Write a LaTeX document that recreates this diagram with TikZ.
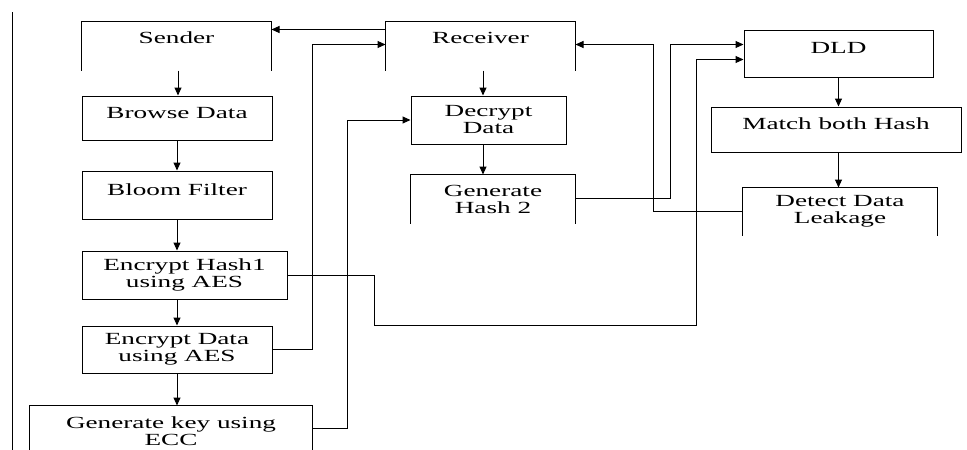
\documentclass[tikz,border=0pt]{standalone}
\usepackage{fontspec}
\setmainfont{Liberation Serif}[FakeStretch=1.6]
\usetikzlibrary{arrows.meta,calc}

\tikzset{
  blk/.style={draw, line width=1pt, inner sep=0pt, align=center,
    font=\fontsize{17}{17}\selectfont},
  openblk/.style={blk, draw=none},
  oneline/.style={text height=12pt, text depth=12pt},
  toptext/.style={text height=12pt, text depth=17pt},
  flow/.style={line width=1pt, -{Triangle[length=8pt,width=7pt]}},
  wire/.style={line width=1pt}
}

\begin{document}
\begin{tikzpicture}[x=1pt,y=1pt]
\useasboundingbox (0,0) rectangle (967,-450);
\draw[wire] (12,-12) -- (12,-450);

% sender column
\node[openblk, toptext, minimum width=189pt, minimum height=48pt] (sender) at (176.5,-46) {Sender};
\node[blk, oneline, minimum width=190pt, minimum height=44pt] (browse) at (177,-118) {Browse Data};
\node[blk, oneline, minimum width=190pt, minimum height=48pt] (bloom) at (177,-195) {Bloom Filter};
\node[blk, minimum width=205pt, minimum height=48pt] (hashone) at (184.5,-275) {Encrypt Hash1\\using AES};
\node[blk, minimum width=190pt, minimum height=47pt] (encdata) at (177,-349.5) {Encrypt Data\\using AES};
\node[openblk, minimum width=282pt, minimum height=50pt] (genkey) at (171,-431) {Generate key using\\ECC};

% receiver column
\node[openblk, toptext, minimum width=189pt, minimum height=48pt] (receiver) at (480.5,-46) {Receiver};
\node[blk, minimum width=155pt, minimum height=48pt] (decrypt) at (488.5,-120) {Decrypt\\Data};
\node[openblk, minimum width=164pt, minimum height=48pt] (hashtwo) at (493,-199) {Generate\\Hash 2};

% detection column
\node[blk, oneline, minimum width=189pt, minimum height=47pt] (dld) at (838.5,-53.5) {DLD};
\node[blk, oneline, minimum width=250pt, minimum height=45pt] (match) at (836,-129.5) {Match both Hash};
\node[openblk, minimum width=194pt, minimum height=47pt] (leak) at (840,-211.5) {Detect Data\\Leakage};

% boxes left open at the bottom
\foreach \n in {sender,genkey,receiver,hashtwo,leak}
  \draw[wire] (\n.south west) |- (\n.north) -| (\n.south east);

% straight down
\draw[flow] ([xshift=1.5pt]sender.south) -- ([xshift=1.5pt]sender.south |- browse.north);
\draw[flow] (browse.south) -- (browse.south |- bloom.north);
\draw[flow] (browse.south |- bloom.south) -- (browse.south |- hashone.north);
\draw[flow] (browse.south |- hashone.south) -- (browse.south |- encdata.north);
\draw[flow] (encdata.south) -- (encdata.south |- genkey.north);
\draw[flow] ([xshift=2.5pt]receiver.south) -- ([xshift=2.5pt]receiver.south |- decrypt.north);
\draw[flow] ([xshift=2.5pt]receiver.south |- decrypt.south) -- ([xshift=2.5pt]receiver.south |- hashtwo.north);
\draw[flow] (dld.south) -- (dld.south |- match.north);
\draw[flow] (dld.south |- match.south) -- (dld.south |- leak.north);

% links between the columns
\draw[flow] ([yshift=-8pt]receiver.north west) -- ([yshift=-8pt]sender.north east);
\draw[flow] (encdata.east) -- ++(40,0) |- ([yshift=-23pt]receiver.north west);
\draw[flow] ([yshift=3pt]genkey.east) -- ++(35,0) |- (decrypt.west);
\draw[flow] (hashone.east) -- ++(86.5,0) |- ++(322,-50) |- ([yshift=-30pt]dld.north west);
\draw[flow] ([yshift=1pt]hashtwo.east) -- ++(95,0) |- ([yshift=-15pt]dld.north west);
\draw[flow] (leak.west) -- ++(-89,0) |- ([yshift=-23pt]receiver.north east);
\end{tikzpicture}
\end{document}
